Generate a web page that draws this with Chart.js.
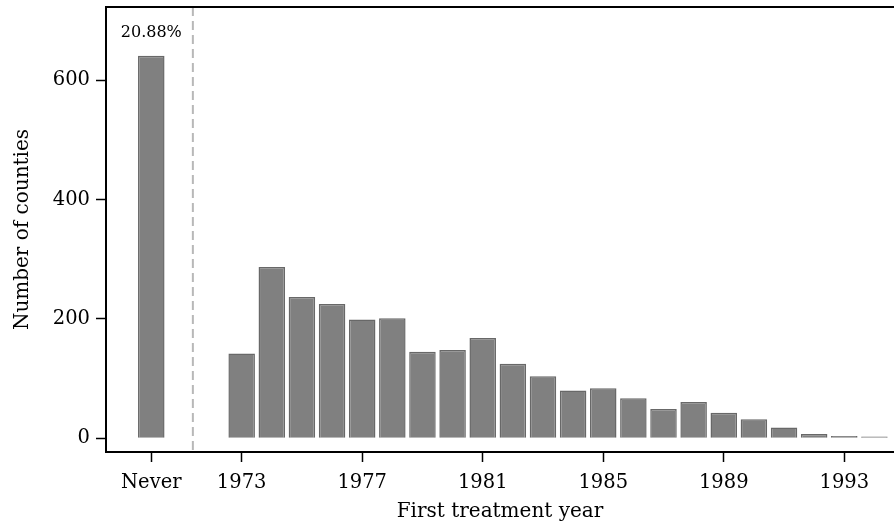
<!DOCTYPE html>
<html>
<head>
<meta charset="utf-8">
<script src="https://cdn.jsdelivr.net/npm/chart.js@4"></script>
<style>
  html, body { margin: 0; padding: 0; background: #ffffff; }
  #wrap { width: 894px; height: 527px; position: relative; }
</style>
</head>
<body>
<div id="wrap"><canvas id="chart"></canvas></div>
<script>
// Counties by the year they were first treated, plus the never-treated group
const neverLabel = 'Never';
const neverPosition = 1970;
const neverCount = 641;
const treatmentYears = [1973, 1974, 1975, 1976, 1977, 1978, 1979, 1980, 1981, 1982, 1983,
                        1984, 1985, 1986, 1987, 1988, 1989, 1990, 1991, 1992, 1993, 1994];
const countiesTreated = [142, 287, 237, 225, 199, 201, 145, 148, 168, 125, 104,
                         80, 84, 67, 49, 61, 43, 32, 18, 7, 4, 3];
const xTickValues = [1970, 1973, 1977, 1981, 1985, 1989, 1993];
const yTickValues = [0, 200, 400, 600];
const dividerPosition = 1971.38;

const FONT = "'DejaVu Serif', 'Liberation Serif', serif";

const barPoints = [{ x: neverPosition, y: neverCount }].concat(
  treatmentYears.map((yr, i) => ({ x: yr, y: countiesTreated[i] }))
);
const totalCounties = neverCount + countiesTreated.reduce((a, b) => a + b, 0);
const neverShare = (neverCount / totalCounties * 100).toFixed(2) + '%';

// Frame line along the top of the plot region
const topFrame = {
  id: 'topFrame',
  afterDraw(chart) {
    const { ctx, chartArea } = chart;
    ctx.save();
    ctx.strokeStyle = '#000';
    ctx.lineWidth = 2;
    ctx.beginPath();
    ctx.moveTo(chartArea.left - 1, chartArea.top);
    ctx.lineTo(chartArea.right, chartArea.top);
    ctx.stroke();
    ctx.restore();
  }
};

// Dashed separator between the never-treated bar and the treated cohorts
const divider = {
  id: 'divider',
  beforeDatasetsDraw(chart) {
    const { ctx, chartArea, scales } = chart;
    const x = scales.x.getPixelForValue(dividerPosition);
    ctx.save();
    ctx.strokeStyle = '#b8b8b8';
    ctx.lineWidth = 2;
    ctx.setLineDash([9, 5]);
    ctx.beginPath();
    ctx.moveTo(x, chartArea.top);
    ctx.lineTo(x, chartArea.bottom);
    ctx.stroke();
    ctx.restore();
  }
};

// Share of never-treated counties printed above its bar
const shareLabel = {
  id: 'shareLabel',
  afterDatasetsDraw(chart) {
    const bar = chart.getDatasetMeta(0).data[0];
    const { ctx } = chart;
    ctx.save();
    ctx.fillStyle = '#000';
    ctx.font = "16px " + FONT;
    ctx.textAlign = 'center';
    ctx.textBaseline = 'middle';
    ctx.fillText(neverShare, bar.x, bar.y - 23);
    ctx.restore();
  }
};

new Chart(document.getElementById('chart'), {
  type: 'bar',
  data: {
    datasets: [{
      data: barPoints,
      backgroundColor: '#808080',
      borderColor: '#686868',
      borderWidth: 1.5,
      barPercentage: 0.88,
      categoryPercentage: 1.0
    }]
  },
  options: {
    responsive: true,
    maintainAspectRatio: false,
    animation: false,
    layout: { padding: { top: 7, right: 0, left: 0, bottom: 0 } },
    plugins: {
      legend: { display: false },
      tooltip: { enabled: false }
    },
    scales: {
      x: {
        type: 'linear',
        offset: false,
        min: 1968.497,
        max: 1994.65,
        afterBuildTicks(scale) { scale.ticks = xTickValues.map(v => ({ value: v })); },
        afterFit(scale) { scale.height = 75; scale.paddingLeft = 0; scale.paddingRight = 0; },
        grid: { display: true, drawOnChartArea: false, offset: false, tickLength: 10, tickColor: '#000', tickWidth: 1.5 },
        border: { display: true, color: '#000', width: 2 },
        ticks: {
          autoSkip: false,
          maxRotation: 0,
          padding: 9,
          color: '#000',
          font: { family: FONT, size: 19.5 },
          callback: v => (v === neverPosition ? neverLabel : String(v))
        },
        title: {
          display: true,
          text: 'First treatment year',
          color: '#000',
          font: { family: FONT, size: 20 },
          padding: { top: 0, bottom: 3 }
        }
      },
      y: {
        min: -22.96,
        max: 722.8,
        afterBuildTicks(scale) { scale.ticks = yTickValues.map(v => ({ value: v })); },
        afterFit(scale) { scale.width = 106; scale.paddingTop = 0; scale.paddingBottom = 0; },
        grid: { display: true, drawOnChartArea: false, tickLength: 10, tickColor: '#000', tickWidth: 1.5 },
        border: { display: true, color: '#000', width: 2 },
        ticks: {
          padding: 6,
          color: '#000',
          font: { family: FONT, size: 19.5 }
        },
        title: {
          display: true,
          text: 'Number of counties',
          color: '#000',
          font: { family: FONT, size: 20 },
          padding: { top: 11, bottom: 0 }
        }
      }
    }
  },
  plugins: [divider, topFrame, shareLabel]
});
</script>
</body>
</html>
